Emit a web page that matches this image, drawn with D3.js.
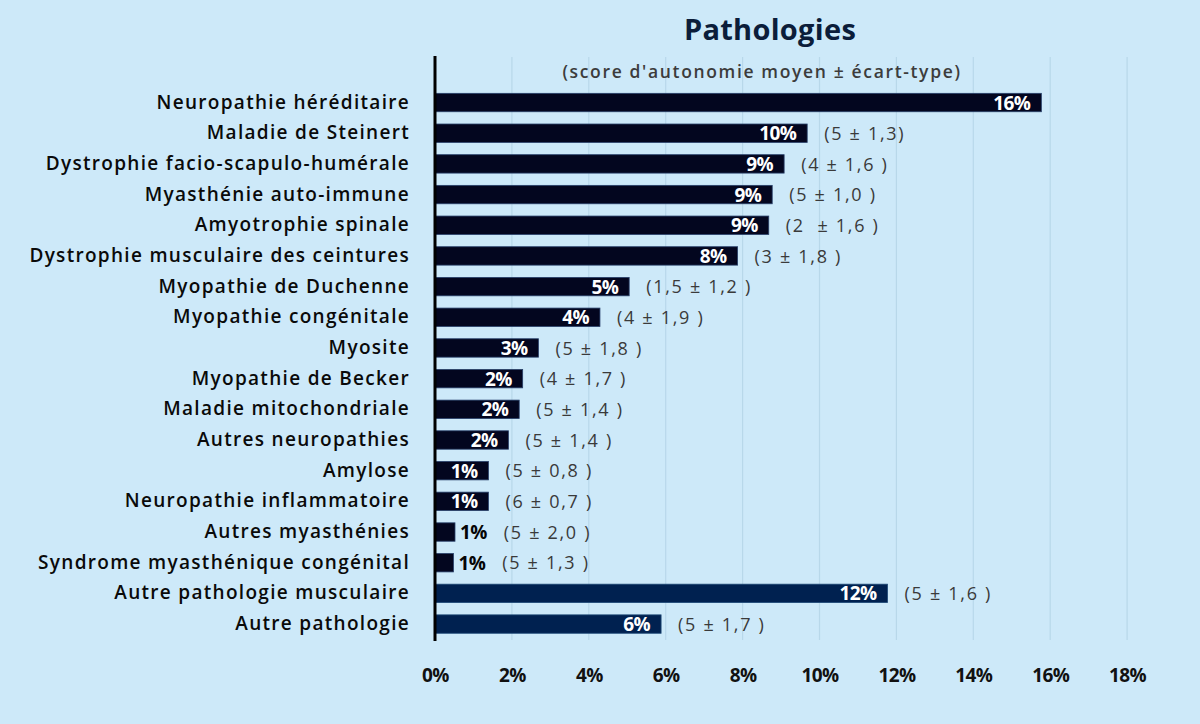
<!DOCTYPE html>
<html><head><meta charset="utf-8">
<script src="https://cdn.jsdelivr.net/npm/d3@7"></script>
<style>
html,body{margin:0;padding:0;background:#cde9f9;}
svg{display:block;}
</style></head>
<body>
<svg id="chart" width="1200" height="724"></svg>
<script>
// ---- data ----
const categories = [
  "Neuropathie héréditaire",
  "Maladie de Steinert",
  "Dystrophie facio-scapulo-humérale",
  "Myasthénie auto-immune",
  "Amyotrophie spinale",
  "Dystrophie musculaire des ceintures",
  "Myopathie de Duchenne",
  "Myopathie congénitale",
  "Myosite",
  "Myopathie de Becker",
  "Maladie mitochondriale",
  "Autres neuropathies",
  "Amylose",
  "Neuropathie inflammatoire",
  "Autres myasthénies",
  "Syndrome myasthénique congénital",
  "Autre pathologie musculaire",
  "Autre pathologie"
];
const shares = [15.77, 9.68, 9.08, 8.77, 8.68, 7.87, 5.05, 4.29, 2.69, 2.28, 2.19, 1.91, 1.39, 1.39, 0.52, 0.48, 11.77, 5.88];
const shareLabels = ["16%","10%","9%","9%","9%","8%","5%","4%","3%","2%","2%","2%","1%","1%","1%","1%","12%","6%"];
const scores = ["", "(5 ± 1,3)", "(4 ± 1,6 )", "(5 ± 1,0 )", "(2  ± 1,6 )", "(3 ± 1,8 )", "(1,5 ± 1,2 )", "(4 ± 1,9 )", "(5 ± 1,8 )", "(4 ± 1,7 )", "(5 ± 1,4 )", "(5 ± 1,4 )", "(5 ± 0,8 )", "(6 ± 0,7 )", "(5 ± 2,0 )", "(5 ± 1,3 )", "(5 ± 1,6 )", "(5 ± 1,7 )"];
const groups = ["nm","nm","nm","nm","nm","nm","nm","nm","nm","nm","nm","nm","nm","nm","nm","nm","other","other"];
const xTicks = [0, 2, 4, 6, 8, 10, 12, 14, 16, 18];
const titleText = "Pathologies";
const subtitleText = "(score d'autonomie moyen ± écart-type)";

// ---- layout / style ----
const FONT = "'Open Sans', 'Noto Sans', sans-serif";
const colorByGroup = {nm: "#03061f", other: "#002150"};
const svg = d3.select("#chart");
svg.append("rect").attr("width",1200).attr("height",724).attr("fill","#cde9f9");

const x = d3.scaleLinear().domain([0, 18]).range([435, 1127.1]);
const y = d3.scaleBand().domain(categories).range([87.2, 639.4]).paddingInner(0.4).paddingOuter(0.2);

const rows = categories.map((c, i) => ({cat: c, v: shares[i], lab: shareLabels[i], score: scores[i], g: groups[i]}));

// gridlines
svg.append("g").selectAll("line").data(xTicks.filter(t => t > 0)).join("line")
  .attr("x1", d => x(d)).attr("x2", d => x(d))
  .attr("y1", 57).attr("y2", 640)
  .attr("stroke", "#b8d8ea").attr("stroke-width", 1.2);

// title
svg.append("text").attr("x", 770).attr("y", 40).attr("text-anchor","middle")
  .attr("font-family", FONT).attr("font-weight", 700).attr("font-size", 29)
  .attr("letter-spacing", 0.3)
  .attr("fill", "#0b1d3a").text(titleText);
svg.append("text").attr("x", 762).attr("y", 78).attr("text-anchor","middle")
  .attr("font-family", FONT).attr("font-weight", 600).attr("font-size", 17.5)
  .attr("letter-spacing", 1.65)
  .attr("fill", "#3c3c3c").text(subtitleText);

// bars
const barG = svg.append("g");
barG.selectAll("rect").data(rows).join("rect")
  .attr("x", x(0)).attr("y", d => y(d.cat))
  .attr("width", d => x(d.v) - x(0)).attr("height", y.bandwidth())
  .attr("fill", d => colorByGroup[d.g])
  .attr("stroke", d => d.g === "other" ? "#1f4a78" : "#28406a").attr("stroke-width", 0.8);

// value labels
const labG = svg.append("g");
rows.forEach(d => {
  const t = labG.append("text")
    .attr("y", y(d.cat) + y.bandwidth()/2).attr("dy", "0.37em")
    .attr("font-family", FONT).attr("font-weight", 700).attr("font-size", 19)
    .attr("letter-spacing", -0.6)
    .text(d.lab);
  const w = t.node().getComputedTextLength();
  const barW = x(d.v) - x(0);
  let endX;
  if (barW > w + 10) {
    t.attr("x", x(d.v) - 11).attr("text-anchor", "end").attr("fill", "#ffffff");
    endX = x(d.v);
  } else {
    t.attr("x", x(d.v) + 5).attr("text-anchor", "start").attr("fill", "#050505");
    endX = x(d.v) + 5 + w;
  }
  if (d.score) {
    labG.append("text")
      .attr("x", endX + 17).attr("y", y(d.cat) + y.bandwidth()/2).attr("dy", "0.37em")
      .attr("font-family", FONT).attr("font-weight", 400).attr("font-size", 18)
      .attr("letter-spacing", 1.7)
      .attr("fill", "#3a3a3a").attr("xml:space", "preserve").style("white-space", "pre")
      .text(d.score);
  }
});

// category axis
const yAxis = svg.append("g").attr("transform", `translate(${x(0)},0)`)
  .call(d3.axisLeft(y).tickSize(0).tickPadding(25));
yAxis.select(".domain").remove();
yAxis.selectAll("text").attr("font-family", FONT).attr("font-weight", 600)
  .attr("font-size", 19).attr("letter-spacing", 1.3).attr("fill", "#0a0a0a");

// vertical axis line
svg.append("line").attr("x1", x(0)).attr("x2", x(0)).attr("y1", 56).attr("y2", 641)
  .attr("stroke", "#000").attr("stroke-width", 3);

// bottom axis
const xAxis = svg.append("g").attr("transform", "translate(0,668)")
  .call(d3.axisBottom(x).tickValues(xTicks).tickFormat(d => d + "%").tickSize(0).tickPadding(0));
xAxis.select(".domain").remove();
xAxis.selectAll("text").attr("font-family", FONT).attr("font-weight", 700)
  .attr("font-size", 19).attr("letter-spacing", -0.6).attr("fill", "#111");
</script>
</body></html>
